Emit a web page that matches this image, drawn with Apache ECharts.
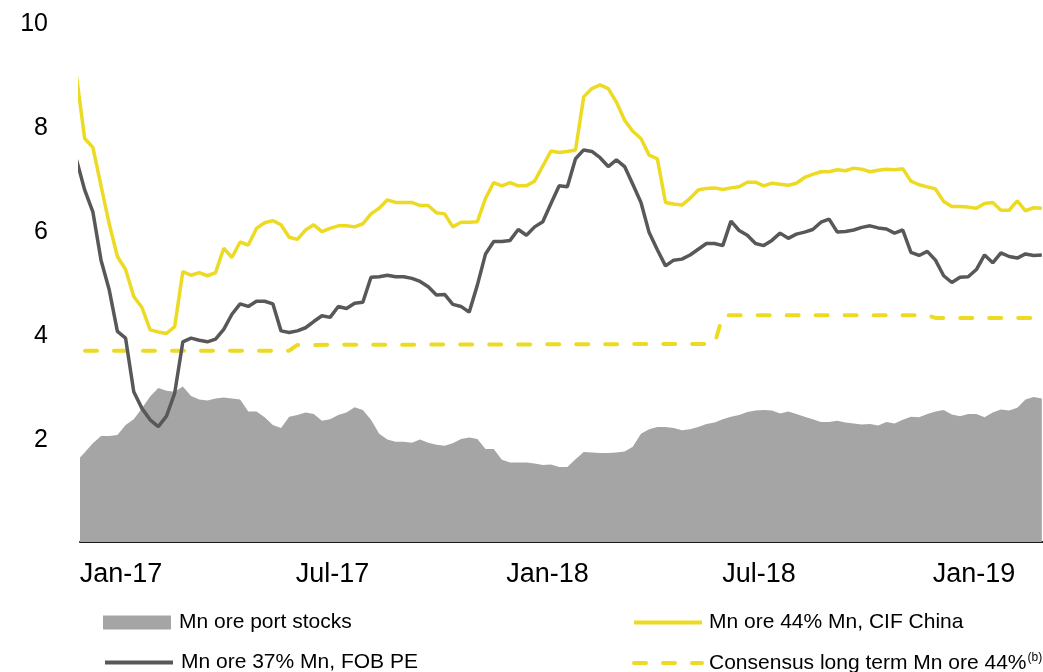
<!DOCTYPE html>
<html>
<head>
<meta charset="utf-8">
<title>Mn ore prices and port stocks</title>
<script src="https://cdn.jsdelivr.net/npm/echarts@6.0.0/dist/echarts.min.js"></script>
<style>
  html, body { margin: 0; padding: 0; background: #fff; }
  #chart { width: 1043px; height: 672px; }
</style>
</head>
<body>
<div id="chart"></div>
<script>
// weekly observations, first week ending 24 Nov 2016
const firstWeek = "2016-11-24";
const axisStart = "2016-11-27";
const axisEnd = "2019-03-01";

const tickDates = ["2017-01-01", "2017-07-01", "2018-01-01", "2018-07-01", "2019-01-01"];
const tickLabels = ["Jan-17", "Jul-17", "Jan-18", "Jul-18", "Jan-19"];

const yTicks = [2, 4, 6, 8, 10];

// Mn ore port stocks (same scale as the chart)
const portStocks = [
  1.55, 1.72, 1.90, 2.04, 2.04, 2.06, 2.25, 2.36, 2.57, 2.80,
  2.96, 2.91, 2.89, 2.99, 2.81, 2.74, 2.72, 2.76, 2.78, 2.76,
  2.74, 2.51, 2.51, 2.40, 2.25, 2.19, 2.41, 2.44, 2.49, 2.46,
  2.33, 2.36, 2.44, 2.49, 2.59, 2.54, 2.35, 2.08, 1.97, 1.93,
  1.93, 1.91, 1.97, 1.91, 1.87, 1.85, 1.90, 1.98, 2.01, 1.98,
  1.79, 1.79, 1.58, 1.53, 1.53, 1.53, 1.51, 1.48, 1.49, 1.44,
  1.44, 1.59, 1.73, 1.72, 1.71, 1.71, 1.72, 1.74, 1.83, 2.08,
  2.17, 2.21, 2.21, 2.19, 2.15, 2.17, 2.21, 2.27, 2.30, 2.36,
  2.41, 2.44, 2.50, 2.53, 2.54, 2.53, 2.47, 2.51, 2.46, 2.41,
  2.36, 2.31, 2.31, 2.33, 2.30, 2.28, 2.26, 2.27, 2.24, 2.31,
  2.28, 2.35, 2.41, 2.40, 2.46, 2.51, 2.54, 2.45, 2.42, 2.46,
  2.46, 2.40, 2.49, 2.55, 2.53, 2.58, 2.74, 2.79, 2.76
];

// Mn ore 44% Mn, CIF China
const cifChina = [
  8.95, 7.76, 7.59, 6.85, 6.12, 5.49, 5.24, 4.72, 4.51, 4.08,
  4.04, 4.01, 4.14, 5.20, 5.13, 5.18, 5.12, 5.18, 5.65, 5.47,
  5.77, 5.71, 6.03, 6.14, 6.18, 6.10, 5.86, 5.82, 6.00, 6.10,
  5.97, 6.03, 6.08, 6.08, 6.06, 6.12, 6.31, 6.42, 6.58, 6.53,
  6.53, 6.53, 6.47, 6.47, 6.33, 6.31, 6.06, 6.15, 6.15, 6.16,
  6.61, 6.91, 6.85, 6.91, 6.85, 6.85, 6.94, 7.23, 7.52, 7.49,
  7.51, 7.54, 8.56, 8.72, 8.79, 8.72, 8.46, 8.11, 7.90, 7.76,
  7.44, 7.37, 6.53, 6.50, 6.48, 6.61, 6.77, 6.80, 6.81, 6.78,
  6.81, 6.83, 6.92, 6.92, 6.85, 6.90, 6.88, 6.86, 6.90, 7.01,
  7.07, 7.12, 7.12, 7.16, 7.14, 7.19, 7.17, 7.12, 7.15, 7.17,
  7.16, 7.18, 6.94, 6.87, 6.83, 6.79, 6.55, 6.45, 6.45, 6.44,
  6.42, 6.51, 6.53, 6.38, 6.38, 6.56, 6.37, 6.43, 6.42
];

// Mn ore 37% Mn, FOB PE
const fobPE = [
  7.35, 6.77, 6.35, 5.42, 4.85, 4.05, 3.92, 2.89, 2.57, 2.35,
  2.22, 2.42, 2.86, 3.85, 3.92, 3.88, 3.85, 3.90, 4.09, 4.38,
  4.58, 4.53, 4.63, 4.63, 4.58, 4.06, 4.03, 4.06, 4.12, 4.24,
  4.35, 4.32, 4.53, 4.49, 4.59, 4.61, 5.09, 5.10, 5.13, 5.10,
  5.10, 5.07, 5.01, 4.91, 4.75, 4.76, 4.57, 4.53, 4.42, 4.94,
  5.54, 5.78, 5.78, 5.80, 6.01, 5.90, 6.06, 6.16, 6.51, 6.85,
  6.83, 7.37, 7.54, 7.51, 7.39, 7.22, 7.35, 7.22, 6.88, 6.53,
  5.95, 5.62, 5.31, 5.42, 5.44, 5.52, 5.63, 5.74, 5.74, 5.70,
  6.17, 5.99, 5.90, 5.74, 5.70, 5.80, 5.94, 5.84, 5.92, 5.96,
  6.01, 6.15, 6.21, 5.96, 5.97, 6.00, 6.05, 6.08, 6.04, 6.02,
  5.94, 6.00, 5.57, 5.51, 5.59, 5.42, 5.12, 4.99, 5.09, 5.10,
  5.24, 5.52, 5.37, 5.56, 5.49, 5.46, 5.54, 5.51, 5.52
];

// consensus long term Mn ore 44% (changes only)
const consensusDates = [
  "2016-11-27", "2017-05-25", "2017-06-01", "2017-12-14", "2018-05-24",
  "2018-05-31", "2018-11-22", "2018-11-29", "2019-02-28"
];
const consensusValues = [3.68, 3.68, 3.79, 3.80, 3.81, 4.36, 4.36, 4.31, 4.31];

const names = [
  "Mn ore port stocks",
  "Mn ore 44% Mn, CIF China",
  "Mn ore 37% Mn, FOB PE",
  "Consensus long term Mn ore 44%"
];

const FONT = "'Liberation Sans', Arial, sans-serif";
const day = 24 * 3600 * 1000;
const utc = (s) => {
  const p = s.split("-").map(Number);
  return Date.UTC(p[0], p[1] - 1, p[2]);
};

const t0 = utc(firstWeek);
const weeks = cifChina.map((v, i) => t0 + i * 7 * day);
const pairs = (arr) => arr.map((v, i) => [weeks[i], v]);
const tickTimes = tickDates.map(utc);

const chart = echarts.init(document.getElementById("chart"), null, { renderer: "canvas" });

const legendText = { color: "#000", fontFamily: FONT, fontSize: 21, padding: [0, 0, 0, 2] };
// line legends: hide the round marker ECharts adds to line icons
const lineLegend = {
  padding: 0,
  itemWidth: 68,
  itemHeight: 14,
  itemStyle: { opacity: 0 },
  lineStyle: { width: 4 },
  textStyle: legendText
};

const option = {
  animation: false,
  backgroundColor: "#fff",
  grid: { left: 80, right: 0, top: 22, bottom: 130 },
  xAxis: {
    // dates as plain timestamps so label positions can be set exactly
    type: "value",
    min: utc(axisStart),
    max: utc(axisEnd),
    axisLine: { show: true, lineStyle: { color: "#1a1a1a", width: 2 } },
    axisTick: { show: false },
    splitLine: { show: false },
    axisLabel: {
      customValues: tickTimes,
      margin: 19,
      color: "#000",
      fontFamily: FONT,
      fontSize: 27,
      formatter: (v) => {
        const k = tickTimes.indexOf(v);
        return k >= 0 ? tickLabels[k] : "";
      }
    }
  },
  yAxis: {
    type: "value",
    min: 0,
    max: 10,
    interval: 2,
    axisLine: { show: false },
    axisTick: { show: false },
    splitLine: { show: false },
    axisLabel: {
      margin: 32,
      verticalAlign: "top",
      lineHeight: 5,
      color: "#000",
      fontFamily: FONT,
      fontSize: 25,
      formatter: (v) => (yTicks.indexOf(v) >= 0 ? String(v) : "")
    }
  },
  legend: [
    {
      data: [{ name: names[0], icon: "rect" }],
      left: 103, top: 612,
      padding: 0,
      itemWidth: 68, itemHeight: 14,
      textStyle: Object.assign({}, legendText, { padding: [0, 0, 0, 3] })
    },
    Object.assign({}, lineLegend, { data: [names[1]], left: 632, top: 612 }),
    Object.assign({}, lineLegend, { data: [names[2]], left: 103, top: 652,
      textStyle: Object.assign({}, legendText, { padding: [0, 0, 0, 3] }) }),
    Object.assign({}, lineLegend, {
      data: [names[3]],
      left: 632, top: 652,
      lineStyle: { width: 4, dashOffset: 0 },
      formatter: (n) => "{t|" + n + "}{s|(b)}",
      textStyle: {
        color: "#000",
        fontFamily: FONT,
        fontSize: 21,
        padding: [0, 0, 0, 2],
        rich: {
          t: { color: "#000", fontFamily: FONT, fontSize: 21 },
          s: { color: "#000", fontFamily: FONT, fontSize: 12, verticalAlign: "top", padding: [0, 0, 10, 1] }
        }
      }
    })
  ],
  series: [
    {
      name: names[0],
      type: "line",
      data: pairs(portStocks),
      symbol: "none",
      itemStyle: { color: "#a5a5a5" },
      lineStyle: { width: 0, color: "#a5a5a5" },
      areaStyle: { color: "#a5a5a5", opacity: 1 },
      z: 1
    },
    {
      name: names[3],
      type: "line",
      data: consensusDates.map((d, i) => [utc(d), consensusValues[i]]),
      symbol: "none",
      itemStyle: { color: "#ecdb22" },
      lineStyle: { width: 4, color: "#ecdb22", type: [12, 17], dashOffset: 24, cap: "round" },
      z: 2
    },
    {
      name: names[2],
      type: "line",
      data: pairs(fobPE),
      symbol: "none",
      itemStyle: { color: "#58585a" },
      lineStyle: { width: 3.5, color: "#58585a" },
      z: 3
    },
    {
      name: names[1],
      type: "line",
      data: pairs(cifChina),
      symbol: "none",
      itemStyle: { color: "#ecdb22" },
      lineStyle: { width: 3.5, color: "#ecdb22" },
      z: 4
    }
  ]
};

chart.setOption(option);
</script>
</body>
</html>
